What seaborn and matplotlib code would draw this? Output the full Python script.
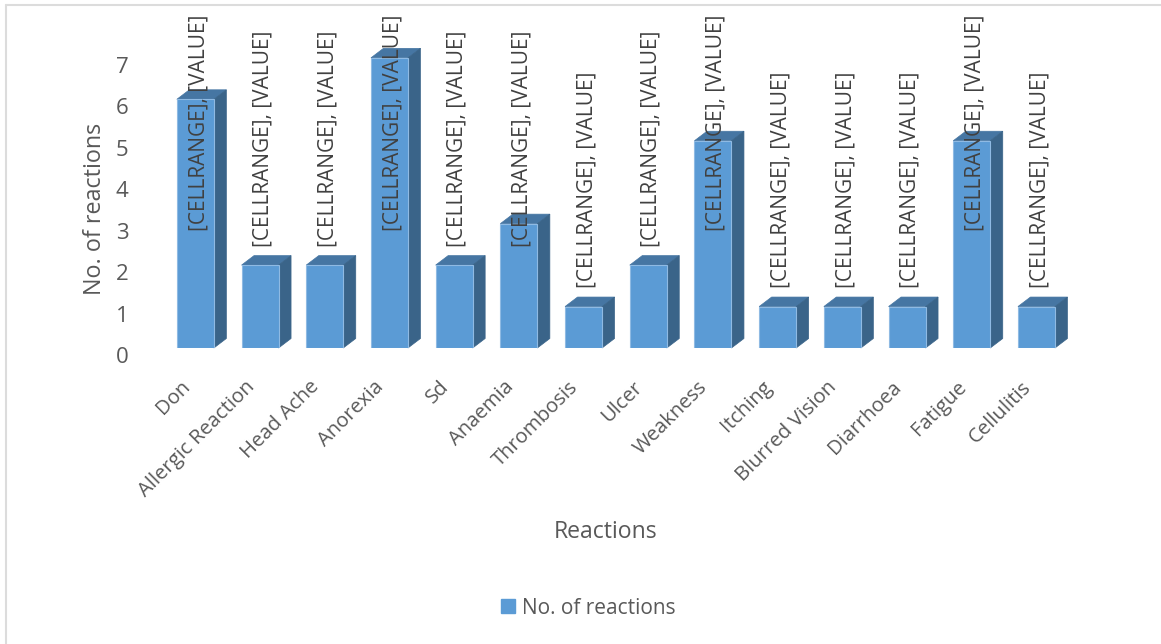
import matplotlib
matplotlib.use("Agg")
import matplotlib.pyplot as plt
from matplotlib.lines import Line2D
from matplotlib.patches import Polygon
from matplotlib.transforms import ScaledTranslation
import pandas as pd
import seaborn as sns

reactions = ["Don", "Allergic Reaction", "Head Ache", "Anorexia", "Sd", "Anaemia",
             "Thrombosis", "Ulcer", "Weakness", "Itching", "Blurred Vision",
             "Diarrhoea", "Fatigue", "Cellulitis"]
counts = [6, 2, 2, 7, 2, 3, 1, 2, 5, 1, 1, 1, 5, 1]
series_name = "No. of reactions"
data_label = "[CELLRANGE], [VALUE]"

FRONT = "#5b9bd5"
EDGE = "#8fbae3"
TOP = "#4676a3"
SIDE = "#3a6489"
TEXT = "#595959"
LABEL = "#404040"
W, H = 1161, 644
FONT = "Open Sans"

sns.set_theme(style="white")
plt.rcParams["font.family"] = [FONT, "DejaVu Sans"]

df = pd.DataFrame({"reaction": reactions, "count": counts})

fig = plt.figure(figsize=(W / 100, H / 100), dpi=100)
PX = fig.dpi_scale_trans


def fx(p):
    return p / W


def fy(p):
    return 1 - p / H


# Floor of the column area sits at y=348 px, one value unit spans 41.45 px
ax = fig.add_axes([fx(163), fy(348), 64.7 * 14 / W, 41.45 * 8 / H])
sns.barplot(data=df, x="reaction", y="count", ax=ax, color=FRONT, saturation=1,
            width=37 / 64.7, edgecolor=EDGE, linewidth=0.8, zorder=3)
ax.set_xlim(-0.5, 13.5)
ax.set_ylim(0, 8)
for s in ax.spines.values():
    s.set_visible(False)

# Extruded top and side faces of each column
half = 37 / 64.7 / 2
DX, DY = 12.5, 9.5
back = ax.transData + ScaledTranslation(DX / 100, DY / 100, PX)
front = ax.transData
for i, v in enumerate(counts):
    x0, x1 = i - half, i + half
    pts_top = [front.transform((x0, v)), front.transform((x1, v)),
               back.transform((x1, v)), back.transform((x0, v))]
    pts_side = [front.transform((x1, 0)), front.transform((x1, v)),
                back.transform((x1, v)), back.transform((x1, 0))]
    for pts, col in ((pts_top, TOP), (pts_side, SIDE)):
        ax.add_patch(Polygon(pts, closed=True, transform=None, facecolor=col,
                             edgecolor=col, linewidth=0.5, zorder=2.5, clip_on=False))

# Value axis: numbers sit lower than the floor because of the chart's depth
ax.set_yticks(range(8))
ax.tick_params(axis="y", length=0, pad=25, labelsize=16, labelcolor=TEXT)
ax.tick_params(axis="x", length=0, pad=0, labelsize=14.6, labelcolor=TEXT)
shift_y = ScaledTranslation(0, -7 / 100, PX)
for t in ax.get_yticklabels():
    t.set_transform(t.get_transform() + shift_y)

# Category labels, right-anchored and slanted
ax.set_xticks(range(len(reactions)))
ax.set_xticklabels(reactions, rotation=45, ha="right", va="top", rotation_mode="anchor")
shift_x = ScaledTranslation(-15.5 / 100, -29 / 100, PX)
for t in ax.get_xticklabels():
    t.set_transform(t.get_transform() + shift_x)

ax.set_xlabel("")
ax.set_ylabel("")
fig.text(fx(95), fy(209), "No. of reactions", rotation=90, ha="center", va="center",
         fontsize=16.8, color=TEXT)
fig.text(fx(606), fy(532), "Reactions", ha="center", va="center", fontsize=16.6, color=TEXT)

# Data labels: unresolved field placeholders, stacked vertically above the floor
lift_px = {1: 60, 2: 101, 3: 101, 5: 117, 6: 117, 7: 117}
for i, v in enumerate(counts):
    ax.text(i + 0.05, 0, data_label, rotation=90, ha="center", va="bottom",
            fontsize=15, color=LABEL, zorder=5, clip_on=False,
            transform=ax.transData + ScaledTranslation(0, lift_px[v] / 100, PX))

handle = Line2D([], [], linestyle="none", marker="s", markersize=10.5,
                markerfacecolor=FRONT, markeredgecolor=FRONT)
fig.legend([handle], [series_name], loc="center", bbox_to_anchor=(fx(581.5), fy(608)),
           frameon=False, fontsize=15, labelcolor=TEXT, handletextpad=-0.31,
           borderpad=0)

# Thin frame of the chart area, visible along the top and left
fig.add_artist(Line2D([fx(6), 1], [fy(4.5), fy(4.5)], color="#dcdcdc", linewidth=1.5))
fig.add_artist(Line2D([fx(6), fx(6)], [fy(4.5), 0], color="#dcdcdc", linewidth=1.5))

fig.savefig("out.png", dpi=100)
